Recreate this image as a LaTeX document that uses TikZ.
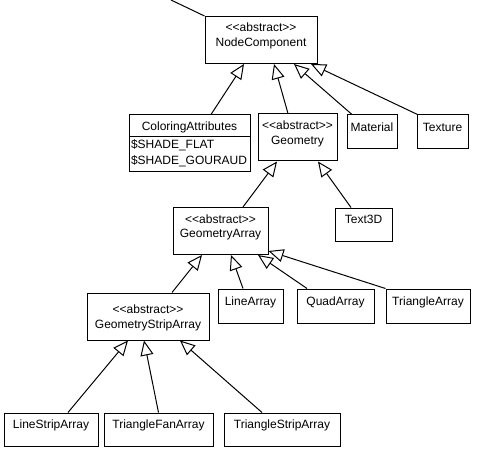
\documentclass[tikz,border=0pt]{standalone}
\usepackage{fontspec}
\usepackage{tikz}
\usetikzlibrary{arrows.meta}
\usetikzlibrary{calc,positioning}
\newfontfamily\umlfont{Liberation Sans}
\newcommand{\stereo}{<\kern0pt<abstract>\kern0pt>}

\begin{document}
\begin{tikzpicture}[x=1pt, y=-1pt, font=\umlfont\fontsize{12}{14}\selectfont,
  cls/.style = {rectangle, draw, line width=1pt, text height=9pt, text depth=10.4pt, minimum height=34pt},
  abscls/.style = {rectangle, draw, line width=1pt, text height=16pt, text depth=2.4pt, minimum height=47pt},
  inh/.style = {line width=1pt, -{Triangle[open, length=15pt, width=13pt]}}]

\useasboundingbox (0,0) rectangle (480,460);

\coordinate (top) at (171,0);
\node[abscls, minimum width=112pt](nc) at (261,40) {\shortstack{\stereo\\[3pt]NodeComponent}};

\node[cls, minimum width=121pt, minimum height=22pt, text depth=0.4pt](ca) at (189.5,126) {ColoringAttributes};
\node[cls, below=-1pt of ca, minimum width=121pt, text height=21pt, text depth=0.4pt, inner xsep=2pt](caattr)
  {\makebox[117pt][l]{\shortstack[l]{\$SHADE\_FLAT\\[2pt]\$SHADE\_GOURAUD}}};
\node[abscls, minimum width=79pt](geom) at (297.5,137.5) {\shortstack{\stereo\\[3pt]Geometry}};
\node[cls, minimum width=50pt](mat) at (372,132) {Material};
\node[cls, minimum width=51pt](tex) at (442.5,132) {Texture};

\node[abscls, minimum width=95pt](ga) at (220.5,231) {\shortstack{\stereo\\[3pt]GeometryArray}};
\node[cls, minimum width=57pt, minimum height=33pt](t3d) at (363.5,224.5) {Text3D};

\node[abscls, minimum width=122pt, text height=24pt, text depth=0.4pt](gsa) at (148,316.5) {\shortstack{\stereo\\[3pt]GeometryStripArray}};
\node[cls, minimum width=65pt](la) at (250.5,306) {LineArray};
\node[cls, minimum width=77pt](qa) at (335.5,306) {QuadArray};
\node[cls, minimum width=84pt](ta) at (428,306) {TriangleArray};

\node[cls, minimum width=94pt, minimum height=33pt](lsa) at (51,429.5) {LineStripArray};
\node[cls, minimum width=109pt, minimum height=33pt](tfa) at (158.5,429.5) {TriangleFanArray};
\node[cls, minimum width=116pt, minimum height=33pt](tsa) at (282,429.5) {TriangleStripArray};

\draw [line width=1pt] (top) to (nc.north west);

\draw [inh] ([xshift=21.5pt]ca.north) to ([xshift=-17pt]nc.south);
\draw [inh] ([xshift=-9.5pt]geom.north) to ([xshift=13pt]nc.south);
\draw [inh] ([xshift=-20pt]mat.north) to ([xshift=33pt]nc.south);
\draw [inh] ([xshift=1pt]tex.north west) to ([xshift=50pt]nc.south);
\draw [inh] ([xshift=22.5pt]ga.north) to ([xshift=-20.5pt]geom.south);
\draw [inh] ([xshift=-12.5pt]t3d.north) to ([xshift=20.5pt]geom.south);
\draw [inh] ([xshift=24pt]gsa.north) to ([xshift=-18.5pt]ga.south);
\draw [inh] ([xshift=-7.5pt]la.north) to ([xshift=10.5pt]ga.south);
\draw [inh] ([xshift=-28.5pt]qa.north) to ([xshift=37.5pt]ga.south);
\draw [inh] (ta.north west) to ([yshift=4pt]ga.south east);
\draw [inh] ([xshift=17pt]lsa.north) to ([xshift=-20pt]gsa.south);
\draw [inh] (tfa.north) to ([xshift=-4pt]gsa.south);
\draw [inh] ([xshift=-20pt]tsa.north) to ([xshift=32pt]gsa.south);

\end{tikzpicture}
\end{document}
